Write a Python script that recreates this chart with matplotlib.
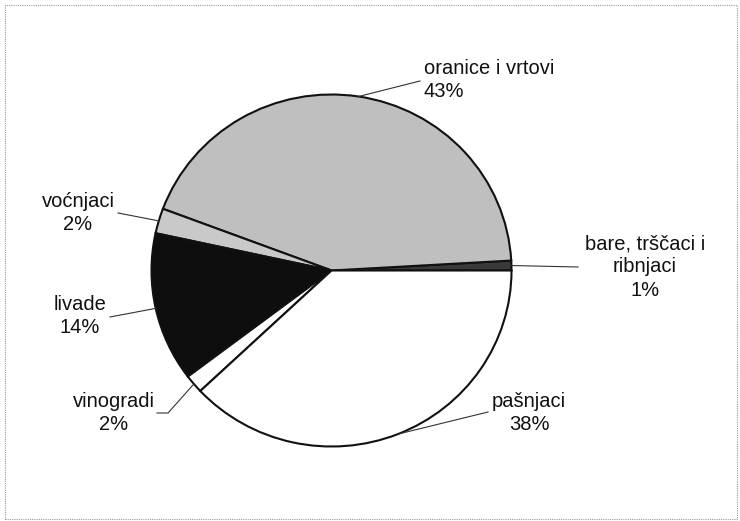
import numpy as np
import matplotlib.pyplot as plt
from matplotlib.patches import Rectangle

plt.rcParams['font.family'] = ['Liberation Sans', 'DejaVu Sans']

# land use shares (%), counterclockwise from 3 o'clock
names = ["bare, trščaci i\nribnjaci", "oranice i vrtovi", "voćnjaci",
         "livade", "vinogradi", "pašnjaci"]
shares = [0.9, 43.4, 2.3, 13.7, 1.7, 38.0]
colors = ["#3a3a3a", "#bfbfbf", "#c9c9c9", "#0e0e0e", "#ffffff", "#ffffff"]

W, H = 740, 521
cx, cy, rx, ry = 331.5, 270.5, 180.0, 176.0


def to_data(px, py):
    return (px - cx) / rx, (cy - py) / ry


fig = plt.figure(figsize=(W / 100, H / 100), dpi=100)
ax = fig.add_axes([(cx - rx) / W, (H - cy - ry) / H, 2 * rx / W, 2 * ry / H])

wedges, _ = ax.pie(shares, colors=colors, startangle=0, counterclock=True,
                   wedgeprops=dict(edgecolor="#111111", linewidth=1.5))
ax.set_aspect('auto')
ax.set_xlim(-1, 1)
ax.set_ylim(-1, 1)
ax.axis('off')

# label placement in pixels: text centre, alignment, leader end points
label_pos = [(645, 267, 'center'), (424, 80, 'left'), (78, 213, 'center'),
             (80, 316, 'center'), (114, 413, 'center'), (529, 413, 'center')]
leader_ends = [[(578, 267)], [(420, 81)], [(118, 213)],
               [(110, 317)], [(168, 413), (157, 413)], [(488, 412)]]

for w, name, v, (tx, ty, ha), ends in zip(wedges, names, shares, label_pos, leader_ends):
    mid = np.deg2rad((w.theta1 + w.theta2) / 2)
    pts = [(np.cos(mid), np.sin(mid))] + [to_data(*p) for p in ends]
    xs, ys = zip(*pts)
    ax.plot(xs, ys, color="#333333", lw=0.8, clip_on=False)
    x, y = to_data(tx, ty)
    ax.text(x, y, f"{name}\n{round(v)}%", ha=ha, va='center', multialignment=ha,
            fontsize=14.5, color="#111111", linespacing=1.3, clip_on=False)

fig.patches.append(Rectangle((5 / W, 2 / H), 732 / W, 514 / H, transform=fig.transFigure,
                             fill=False, edgecolor="#999999", lw=0.8, linestyle=(0, (1, 1))))

fig.savefig("out.png", dpi=100)
